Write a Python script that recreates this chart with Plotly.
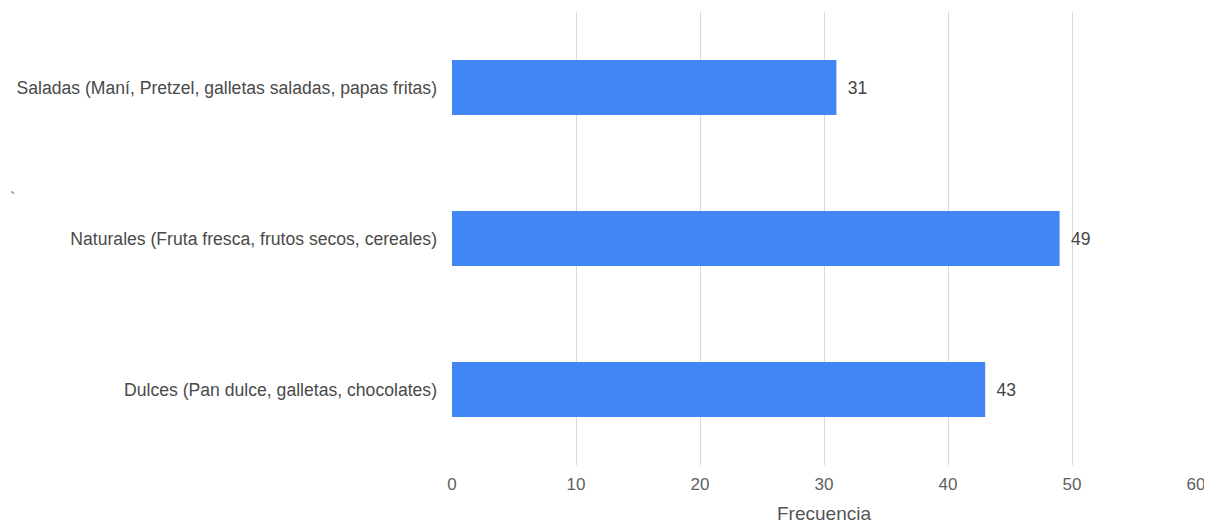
import plotly.graph_objects as go

categories = [
    "Saladas (Maní, Pretzel, galletas saladas, papas fritas)",
    "Naturales (Fruta fresca, frutos secos, cereales)",
    "Dulces (Pan dulce, galletas, chocolates)",
]
values = [31, 49, 43]
x_ticks = [0, 10, 20, 30, 40, 50, 60]
x_title = "Frecuencia"

FONT = "Liberation Sans, Arial, sans-serif"

fig = go.Figure(
    go.Bar(
        y=categories,
        x=values,
        orientation="h",
        marker=dict(color="#4285F4", line=dict(width=0)),
        text=values,
        texttemplate=" \u2009%{text}",
        textposition="outside",
        textfont=dict(family=FONT, size=17.5, color="#444444"),
        cliponaxis=False,
    )
)

# plot area in page pixels: x 452..1196, y 12..465 (page has an 8px body margin)
fig.update_layout(
    width=1204,
    height=516,
    margin=dict(l=444, r=16, t=4, b=59),
    paper_bgcolor="white",
    plot_bgcolor="white",
    bargap=0.636,
    showlegend=False,
    font=dict(family=FONT, size=17.5, color="#444444"),
    xaxis=dict(
        range=[0, 60],
        tickvals=x_ticks,
        showgrid=True,
        gridcolor="#d9d9d9",
        gridwidth=1,
        zeroline=False,
        showline=False,
        ticks="",
        ticklabelstandoff=7,
        tickfont=dict(size=17, color="#5f5f5f"),
        title=dict(text=x_title, font=dict(size=19, color="#555555"), standoff=14),
    ),
    yaxis=dict(
        autorange="reversed",
        showgrid=False,
        zeroline=False,
        showline=False,
        ticks="",
        ticklabelstandoff=14,
        tickfont=dict(size=17.6, color="#4a4a4a"),
    ),
    annotations=[
        dict(
            text="`",
            x=-444 / 744,
            y=(465 - 198) / 453,
            xref="paper",
            yref="paper",
            showarrow=False,
            font=dict(size=16, color="#666666"),
            xanchor="left",
            yanchor="middle",
        )
    ],
)

fig.write_html("out.html")
